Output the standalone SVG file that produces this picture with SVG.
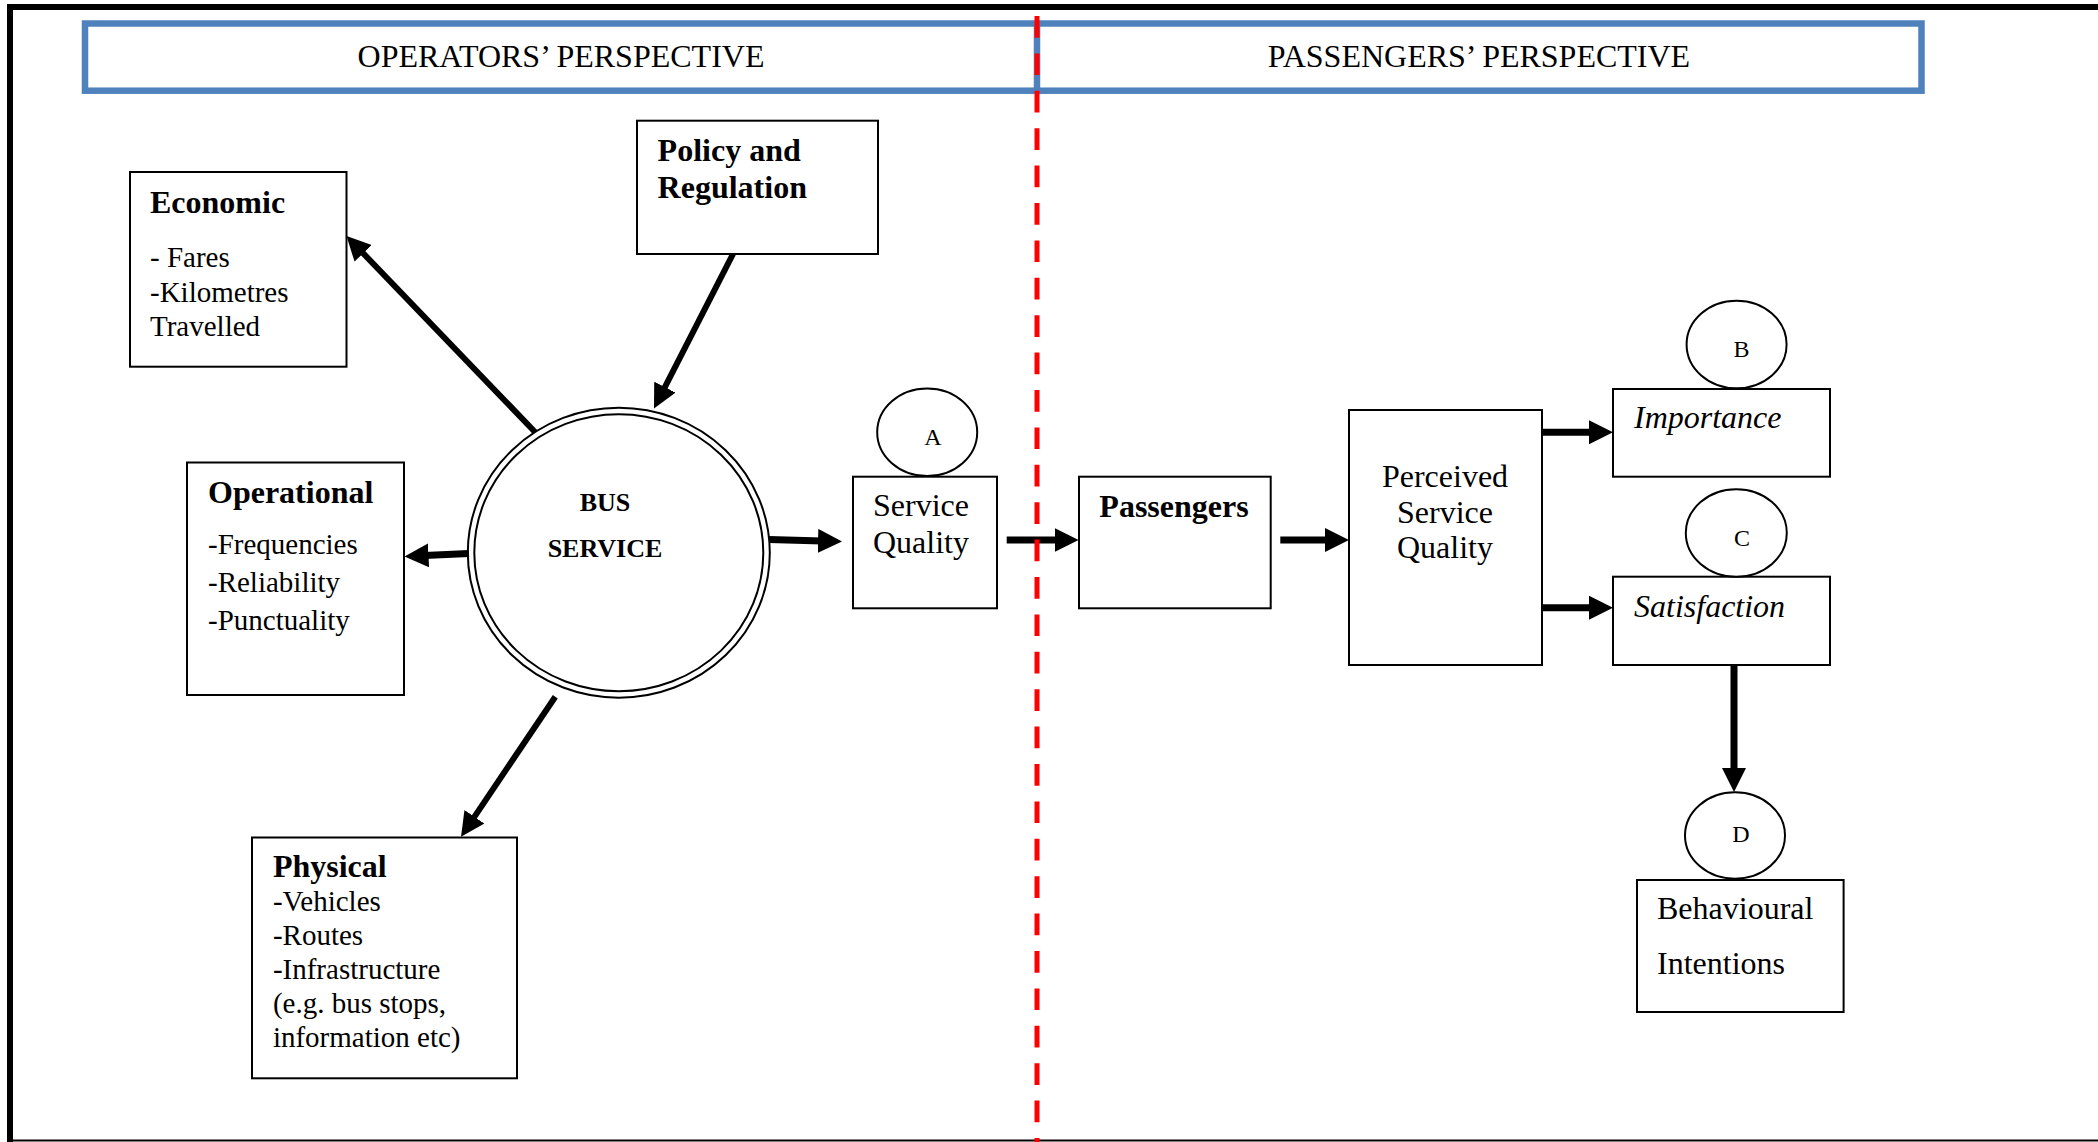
<svg xmlns="http://www.w3.org/2000/svg" width="2098" height="1142" viewBox="0 0 2098 1142">
<style>
  text { font-family: "Liberation Serif", "Times New Roman", serif; fill: #000; }
  .box { fill: #fff; stroke: #000; stroke-width: 2; }
  .ell { fill: #fff; stroke: #000; stroke-width: 2; }
  .hdr { font-size: 32px; text-anchor: middle; }
  .h { font-size: 32px; font-weight: bold; }
  .b { font-size: 29px; }
  .t { font-size: 32px; }
  .i { font-size: 32px; font-style: italic; }
  .lbl { font-size: 24px; text-anchor: middle; }
  .arr { stroke: #000; stroke-width: 7; fill: none; marker-end: url(#ah); }
  .arrd { stroke: #000; stroke-width: 6; fill: none; marker-end: url(#ah); }
</style>
<defs>
  <marker id="ah" viewBox="0 0 24 24" refX="4" refY="12" markerUnits="userSpaceOnUse" markerWidth="24" markerHeight="24" orient="auto">
    <path d="M0,0 L24,12 L0,24 z" fill="#000"/>
  </marker>
</defs>
<rect width="2098" height="1142" fill="#fff"/>
<!-- page frame -->
<g id="frame">
  <rect x="7" y="4" width="2091" height="6" fill="#000"/>
  <rect x="7" y="4" width="6" height="1138" fill="#000"/>
  <line x1="7" y1="1140.5" x2="2098" y2="1140.5" stroke="#000" stroke-width="2"/>
</g>
<!-- header -->
<g id="header">
  <rect x="85" y="23.5" width="1836.5" height="67.2" fill="none" stroke="#4F81BD" stroke-width="6.5"/>
  <line x1="1037" y1="23.5" x2="1037" y2="90.7" stroke="#4F81BD" stroke-width="6.5"/>
  <text class="hdr" x="561" y="66.7">OPERATORS’ PERSPECTIVE</text>
  <text class="hdr" x="1479" y="66.7">PASSENGERS’ PERSPECTIVE</text>
</g>
<!-- nodes -->
<g id="economic">
  <rect class="box" x="130" y="172" width="216.5" height="194.7"/>
  <text class="h" x="150" y="212.7">Economic</text>
  <text class="b" x="150" y="266.7">- Fares</text>
  <text class="b" x="150" y="301.7">-Kilometres</text>
  <text class="b" x="150" y="336">Travelled</text>
</g>
<g id="policy">
  <rect class="box" x="637" y="120.7" width="241" height="133.3"/>
  <text class="h" x="657.6" y="161">Policy and</text>
  <text class="h" x="657.6" y="198.3">Regulation</text>
</g>
<g id="operational">
  <rect class="box" x="187" y="462.5" width="217" height="232.5"/>
  <text class="h" x="208" y="502.7">Operational</text>
  <text class="b" x="208" y="554">-Frequencies</text>
  <text class="b" x="208" y="592.3">-Reliability</text>
  <text class="b" x="208" y="630">-Punctuality</text>
</g>
<g id="bus-service">
  <ellipse class="ell" cx="618.8" cy="552.7" rx="151" ry="145"/>
  <ellipse class="ell" cx="618.8" cy="552.7" rx="144.5" ry="138.5"/>
  <text x="605" y="511" font-size="26" font-weight="bold" text-anchor="middle">BUS</text>
  <text x="605" y="556.7" font-size="26" font-weight="bold" text-anchor="middle">SERVICE</text>
</g>
<g id="physical">
  <rect class="box" x="252" y="837.5" width="265" height="240.8"/>
  <text class="h" x="272.9" y="877.3">Physical</text>
  <text class="b" x="272.9" y="911">-Vehicles</text>
  <text class="b" x="272.9" y="945">-Routes</text>
  <text class="b" x="272.9" y="979">-Infrastructure</text>
  <text class="b" x="272.9" y="1013.3">(e.g. bus stops,</text>
  <text class="b" x="272.9" y="1046.7">information etc)</text>
</g>
<g id="service-quality">
  <rect class="box" x="853" y="476.7" width="144" height="131.6"/>
  <text class="t" x="921" y="515.7" text-anchor="middle">Service</text>
  <text class="t" x="921" y="553.3" text-anchor="middle">Quality</text>
</g>
<g id="label-a">
  <ellipse class="ell" cx="927.2" cy="432.2" rx="50" ry="43.8"/>
  <text class="lbl" x="933" y="445">A</text>
</g>
<g id="passengers">
  <rect class="box" x="1079" y="476.7" width="191.7" height="131.6"/>
  <text class="h" x="1174" y="517.3" text-anchor="middle">Passengers</text>
</g>
<g id="perceived-service-quality">
  <rect class="box" x="1349" y="410" width="193" height="255"/>
  <text class="t" x="1445" y="486.7" text-anchor="middle">Perceived</text>
  <text class="t" x="1445" y="523.3" text-anchor="middle">Service</text>
  <text class="t" x="1445" y="558.3" text-anchor="middle">Quality</text>
</g>
<g id="importance">
  <rect class="box" x="1613" y="389" width="217" height="87.7"/>
  <text class="i" x="1634" y="428.3">Importance</text>
</g>
<g id="label-b">
  <ellipse class="ell" cx="1736.6" cy="344.5" rx="50" ry="43.8"/>
  <text class="lbl" x="1741.6" y="356.7">B</text>
</g>
<g id="satisfaction">
  <rect class="box" x="1613" y="576.7" width="217" height="88.3"/>
  <text class="i" x="1634" y="616.7">Satisfaction</text>
</g>
<g id="label-c">
  <ellipse class="ell" cx="1736.3" cy="533" rx="50.5" ry="43.7"/>
  <text class="lbl" x="1742" y="545.7">C</text>
</g>
<g id="label-d">
  <ellipse class="ell" cx="1735" cy="835.5" rx="50" ry="43.2"/>
  <text class="lbl" x="1741" y="841.7">D</text>
</g>
<g id="behavioural-intentions">
  <rect class="box" x="1637" y="880" width="206.6" height="132"/>
  <text class="t" x="1657" y="919.3">Behavioural</text>
  <text class="t" x="1657" y="974">Intentions</text>
</g>
<!-- connectors -->
<g id="connectors">
  <line class="arrd" x1="535" y1="432" x2="360.4" y2="250.4"/>
  <line class="arrd" x1="733" y1="254" x2="663.1" y2="390.7"/>
  <line class="arr" x1="469" y1="553.5" x2="424.5" y2="555.6"/>
  <line class="arrd" x1="555.3" y1="696.7" x2="472.2" y2="820.1"/>
  <line class="arr" x1="769" y1="539.5" x2="822" y2="541"/>
  <line class="arr" x1="1006.7" y1="540" x2="1058.6" y2="540"/>
  <line class="arr" x1="1280.3" y1="540" x2="1329" y2="540"/>
  <line class="arr" x1="1542" y1="432.3" x2="1593" y2="432.3"/>
  <line class="arr" x1="1542" y1="607.7" x2="1593" y2="607.7"/>
  <line class="arr" x1="1734" y1="665" x2="1734" y2="772"/>
</g>
<!-- divider -->
<g id="divider">
  <line x1="1037" y1="16" x2="1037" y2="1142" stroke="#FF0000" stroke-width="5" stroke-dasharray="21.7 15.7"/>
</g>
</svg>
